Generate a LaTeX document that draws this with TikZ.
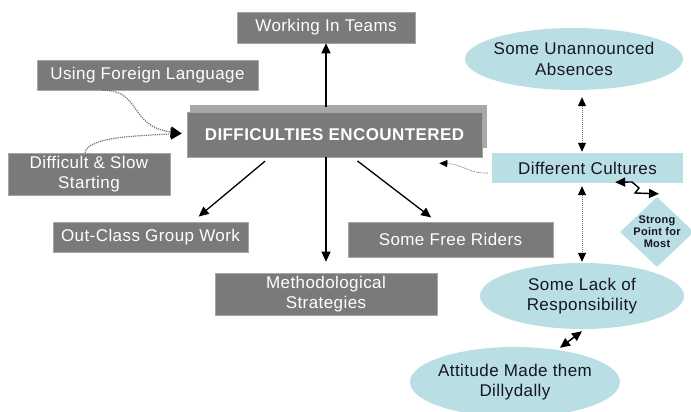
\documentclass[tikz,border=0pt]{standalone}
\usepackage{fontspec}
\setmainfont{Liberation Sans}[LetterSpace=2.5]
\usetikzlibrary{arrows.meta,shapes.geometric,calc}
\definecolor{boxgray}{RGB}{122,122,122}
\definecolor{boxedge}{RGB}{165,165,165}
\definecolor{shadowgray}{RGB}{168,168,168}
\definecolor{cyanfill}{RGB}{185,223,228}
\definecolor{darktext}{RGB}{22,22,34}
\definecolor{dotgray}{RGB}{110,110,110}
\begin{document}
\begin{tikzpicture}[x=1pt,y=-1pt,
  graybox/.style={rectangle, fill=boxgray, draw=boxedge, line width=0.6pt, text=white,
    font=\fontsize{17}{20}\selectfont, align=center, inner sep=0pt},
  cyanbox/.style={rectangle, fill=cyanfill, text=darktext,
    font=\fontsize{17}{20}\selectfont, align=center, inner sep=0pt},
  cyanshape/.style={fill=cyanfill, inner sep=0pt},
  celltext/.style={text=darktext, font=\fontsize{17}{20.5}\selectfont, align=center, inner sep=0pt},
  arr/.style={-{Triangle[length=10pt,width=9pt]}, line width=1.3pt, black},
  dotarr/.style={{Triangle[length=9pt,width=8pt,color=black]}-{Triangle[length=9pt,width=8pt,color=black]}, densely dotted, line width=1pt, dotgray},
  curvarr/.style={-{Triangle[length=11pt,width=11pt,color=black]}, densely dotted, line width=1.2pt, dotgray},
  bothsolid/.style={{Triangle[length=10pt,width=9pt]}-{Triangle[length=10pt,width=9pt]}, line width=1.5pt, black}
]
\path[use as bounding box] (0,0) rectangle (691,412);

% gray boxes
\node[graybox, minimum width=178, minimum height=31] (wit) at (326,27.5) {Working In Teams};
\node[graybox, minimum width=221, minimum height=30] (ufl) at (147.5,75) {Using Foreign Language};
\fill[shadowgray] (190,105) rectangle (487,148);
\node[graybox, minimum width=295, minimum height=45, font=\bfseries\fontsize{17}{20}\selectfont] (de) at (334.5,134.5) {DIFFICULTIES ENCOUNTERED};
\node[graybox, minimum width=162, minimum height=42] (dss) at (89,174) {Difficult \& Slow\\Starting};
\node[graybox, minimum width=195, minimum height=30] (ocgw) at (150.5,237) {Out-Class Group Work};
\node[graybox, minimum width=222, minimum height=42] (ms) at (326,294) {Methodological\\Strategies};
\node[graybox, minimum width=205, minimum height=35] (sfr) at (450.5,239.5) {Some Free Riders};

% cyan shapes
\node[cyanbox, minimum width=191, minimum height=30] (dc) at (587.5,168) {Different Cultures};
\node[cyanshape, ellipse, minimum width=218, minimum height=62] (sua) at (574,59) {};
\node[celltext] (suat) at (sua) {Some Unannounced\\Absences};
\node[cyanshape, ellipse, minimum width=204, minimum height=66] (slr) at (582,296) {};
\node[celltext] (slrt) at (slr) {Some Lack of\\Responsibility};
\node[cyanshape, ellipse, minimum width=210, minimum height=70] (add) at (515,382) {};
\node[celltext] (addt) at (add) {Attitude Made them\\Dillydally};
\node[cyanshape, diamond, minimum width=74, minimum height=70] (spm) at (657,232) {};
\node[celltext, font=\bfseries\fontsize{11}{12}\selectfont] (spmt) at (spm) {Strong\\Point for\\Most};

% connectors from DIFFICULTIES
\draw[arr] ($(de.north -| wit.south)+(0,-5)$) -- (wit.south);
\draw[arr, shorten >=11pt] (de.south -| ms.north) -- (ms.north);
\draw[arr, shorten <=6pt, shorten >=8pt] ($(de.south west)+(83,0)$) -- ($(ocgw.north)+(42,0)$);
\draw[arr, shorten <=6pt, shorten >=7pt] ($(de.south west)+(166,0)$) -- ($(sfr.north west)+(89,0)$);

% dotted curves into DIFFICULTIES
\coordinate (detip) at ($(de.west)+(-5,-1)$);
\draw[curvarr] ($(ufl.south)+(-45,0)$) .. controls (142,90) and (128,126) .. (detip);
\draw[curvarr] ($(dss.north)+(-4,0)$) .. controls (88,138) and (128,136) .. (detip);

% Different Cultures -> DIFFICULTIES (thin)
\draw[-{Triangle[length=8pt,width=7pt,color=black]}, dash pattern=on 1pt off 0.8pt, line width=0.6pt, dotgray]
  ($(dc.west)+(-4,5)$) .. controls (470,174) and (462,164) .. ($(de.south east)+(-43,6)$);

% vertical dotted double arrows
\draw[dotarr] ($(sua.south)+(8,7)$) -- ($(dc.north)+(-5.5,-1)$);
\draw[dotarr] ($(dc.south)+(-5.5,3)$) -- ($(slr.north)+(0,-1)$);

% zigzag to diamond
\draw[bothsolid, line width=1.4pt] ($(dc.south east)+(-68,-1)$) -- (632,182) -- (639,188) -- (635,193) -- ($(spm.north)+(2,-3)$);

% Lack of Responsibility <-> Attitude
\draw[bothsolid] ($(slr.south)+(0,2)$) -- ($(add.north)+(45,1)$);
\end{tikzpicture}
\end{document}
